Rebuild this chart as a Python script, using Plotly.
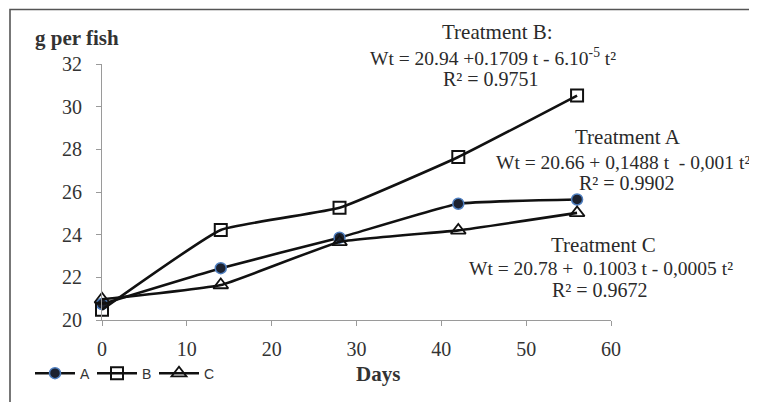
import plotly.graph_objects as go

days = [0, 14, 28, 42, 56]
series_a = [20.75, 22.43, 23.86, 25.45, 25.65]
series_b = [20.48, 24.22, 25.26, 27.64, 30.52]
series_c = [20.97, 21.64, 23.66, 24.2, 25.02]
series_names = ["A", "B", "C"]
y_ticks = [20, 22, 24, 26, 28, 30, 32]
x_ticks = [0, 10, 20, 30, 40, 50, 60]

# page has an 8px body margin; figure is shrunk to compensate
OFF = 8
W, H = 757 - OFF, 402 - OFF
L, R, T, B = 102 - OFF, 146, 64 - OFF, 80
PW, PH = W - L - R, H - T - B


def px(x):
    return (x - OFF - L) / PW


def py(y):
    return (H - B - (y - OFF)) / PH


SERIF = "Liberation Serif, Times New Roman, serif"
SANS = "Liberation Sans, Arial, sans-serif"
TXT = "#2a2a2a"
SMOOTH = 0.35

fig = go.Figure()
fig.add_trace(go.Scatter(
    x=days, y=series_a, name=series_names[0], mode="lines+markers",
    line=dict(color="#111111", width=2.6, shape="spline", smoothing=SMOOTH),
    marker=dict(symbol="circle", size=11, color="#1c2230",
                line=dict(color="#4f7fc0", width=1.5)),
    cliponaxis=False,
))
fig.add_trace(go.Scatter(
    x=days, y=series_b, name=series_names[1], mode="lines+markers",
    line=dict(color="#111111", width=2.6, shape="spline", smoothing=SMOOTH),
    marker=dict(symbol="square-open", size=12, color="#111111",
                line=dict(width=2)),
    cliponaxis=False,
))
fig.add_trace(go.Scatter(
    x=days, y=series_c, name=series_names[2], mode="lines+markers",
    line=dict(color="#111111", width=2.6, shape="spline", smoothing=SMOOTH),
    marker=dict(symbol="triangle-up-open", size=13, color="#111111",
                line=dict(width=1.8)),
    cliponaxis=False,
))

axis_common = dict(
    showgrid=False, zeroline=False, showline=True, linecolor="#9a9a9a",
    linewidth=1.2, ticks="outside", ticklen=5, tickcolor="#9a9a9a",
    tickfont=dict(family=SERIF, size=20, color="#333333"),
)

fig.update_xaxes(range=[0, 60], tickvals=x_ticks, ticklabelstandoff=6, **axis_common)
fig.update_yaxes(range=[20, 32], tickvals=y_ticks, ticklabelstandoff=10, **axis_common)

ann = []


def add_text(text, x, y, size=20, bold=False, family=SERIF, color=TXT):
    if bold:
        text = "<b>" + text + "</b>"
    ann.append(dict(text=text, x=px(x), y=py(y), xref="paper", yref="paper",
                    xanchor="center", yanchor="middle", showarrow=False,
                    font=dict(family=family, size=size, color=color)))


add_text("g per fish", 77, 38, size=21, bold=True, color="#333333")
add_text("Days", 378, 376, size=21, bold=True, color="#333333")

add_text("Treatment B:", 497, 32, size=21)
add_text("Wt = 20.94 +0.1709 t - 6.10<sup>-5</sup> t²", 493, 57, size=19.5)
add_text("R² = 0.9751", 491, 79)

add_text("Treatment A", 628, 138, size=21)
add_text("Wt = 20.66 + 0,1488 t  - 0,001 t²", 623, 163, size=19.5)
add_text("R² = 0.9902", 627, 184)

add_text("Treatment C", 603, 246, size=21)
add_text("Wt = 20.78 +  0.1003 t - 0,0005 t²", 601, 270, size=19.5)
add_text("R² = 0.9672", 600, 292)

fig.update_layout(
    width=W, height=H,
    margin=dict(l=L, r=R, t=T, b=B),
    paper_bgcolor="white", plot_bgcolor="white",
    annotations=ann,
    showlegend=True,
    legend=dict(orientation="h", x=px(30), y=py(376), xanchor="left",
                yanchor="middle", font=dict(family=SANS, size=14, color="#333333"),
                bgcolor="rgba(0,0,0,0)", itemwidth=40, entrywidth=7,
                entrywidthmode="pixels", tracegroupgap=0),
    shapes=[dict(type="rect", xref="paper", yref="paper",
                 x0=px(10), x1=px(775), y0=py(9), y1=py(420),
                 line=dict(color="#555555", width=1.6), layer="below")],
)

fig.write_html("out.html")
